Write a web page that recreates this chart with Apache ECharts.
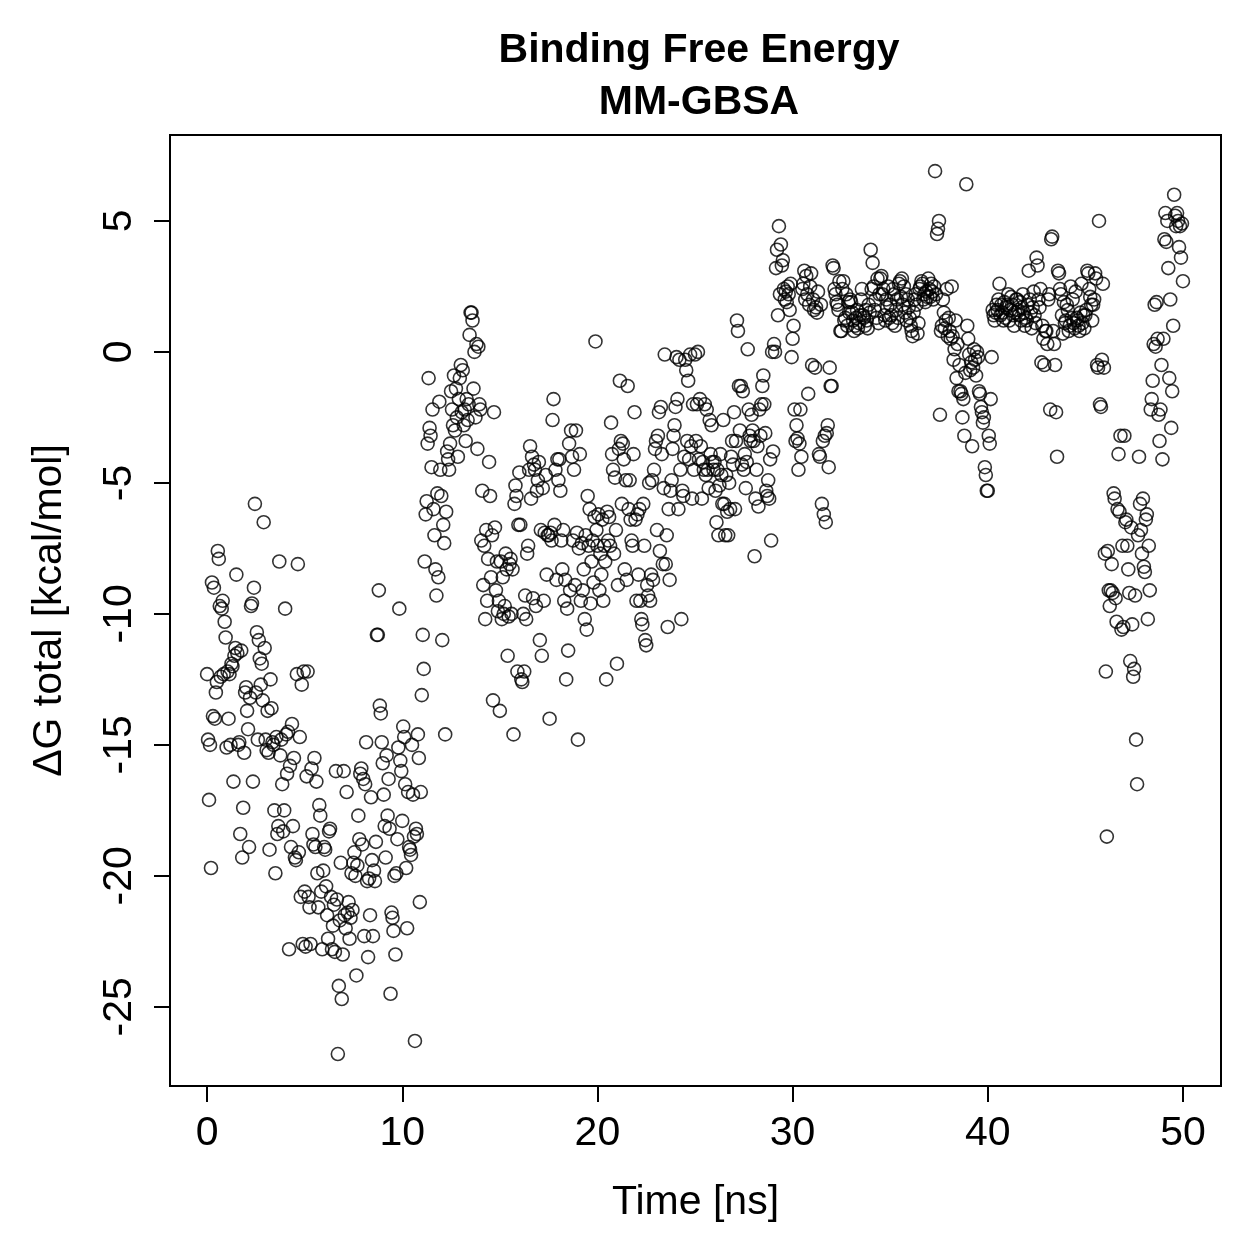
<!DOCTYPE html>
<html>
<head>
<meta charset="utf-8">
<title>Binding Free Energy MM-GBSA</title>
<script src="https://cdn.jsdelivr.net/npm/echarts@6/dist/echarts.min.js"></script>
<style>
  html, body { margin: 0; padding: 0; background: #fff; }
  #chart { width: 1259px; height: 1259px; }
</style>
</head>
<body>
<div id="chart"></div>
<script>
// frames are 0.05 ns apart, one array per 5 ns block (kcal/mol)
var timeStep = 0.05;
var blockLength = 5;

var dG_00_05 = [
  -12.3, -14.8, -17.1, -15.0, -19.7, -8.8, -13.9, -9.0, -14.0, -13.0,
  -12.6, -7.6, -7.9, -9.7, -12.4, -9.8, -9.5, -12.3, -10.3, -10.9,
  -15.1, -12.2, -14.0, -12.3, -15.0, -11.9, -12.0, -16.4, -11.6, -11.3,
  -8.5, -11.5, -15.0, -14.9, -18.4, -11.4, -19.3, -17.4, -15.3, -13.0,
  -12.8, -13.7, -14.4, -18.9, -13.2, -9.7, -9.6, -16.4, -9.0, -5.8,
  -13.0, -10.7, -14.8, -11.0, -11.7, -12.7, -11.9, -13.3, -6.5, -11.3,
  -14.8, -15.2, -13.7, -15.3, -19.0, -12.5, -13.6, -14.9, -15.0, -17.5,
  -19.9, -14.7, -18.4, -18.1, -8.0, -15.4, -14.8, -16.5, -18.3, -17.5,
  -9.8, -14.6, -16.1, -14.5, -22.8, -15.8, -18.9, -14.2, -18.1, -15.5,
  -19.3, -19.4, -12.3, -8.1, -19.1, -14.7, -20.8, -12.7, -22.6, -12.2
];
var dG_05_10 = [
  -20.6, -22.7, -16.2, -12.2, -20.8, -21.2, -22.6, -15.9, -18.4, -18.8,
  -15.5, -18.9, -16.4, -19.9, -21.2, -17.3, -17.7, -20.6, -22.8, -19.8,
  -18.9, -19.0, -20.4, -21.5, -22.4, -18.3, -18.2, -20.8, -22.8, -21.9,
  -21.1, -22.9, -16.0, -20.9, -26.8, -24.2, -21.7, -19.5, -24.7, -23.0,
  -16.0, -21.5, -22.0, -16.8, -21.4, -21.0, -22.4, -21.6, -19.9, -21.3,
  -19.5, -19.1, -20.0, -23.8, -19.6, -17.7, -18.6, -16.1, -15.9, -18.8,
  -16.3, -22.3, -16.5, -14.9, -20.2, -23.1, -20.1, -21.5, -17.0, -19.4,
  -22.3, -19.8, -20.2, -18.7, -10.8, -10.8, -9.1, -13.5, -13.8, -14.9,
  -15.7, -16.9, -18.1, -19.3, -15.4, -17.7, -16.3, -18.2, -24.5, -21.4,
  -21.6, -22.1, -20.0, -23.0, -19.9, -18.6, -15.1, -9.8, -15.6, -16.0
];
var dG_10_15 = [
  -17.9, -14.3, -14.7, -16.5, -19.7, -22.0, -16.8, -18.9, -19.0, -19.2,
  -15.0, -16.9, -18.5, -26.3, -18.2, -18.4, -14.6, -15.5, -21.0, -16.8,
  -13.1, -10.8, -12.1, -8.0, -6.2, -5.7, -3.5, -1.0, -2.9, -3.2,
  -4.4, -2.2, -6.0, -7.0, -8.3, -9.3, -5.4, -8.6, -1.9, -4.5,
  -5.5, -11.0, -6.6, -7.3, -14.6, -6.1, -3.8, -4.1, -4.5, -3.5,
  -1.5, -2.2, -2.8, -0.9, -3.0, -1.4, -2.5, -4.0, -1.8, -1.0,
  -0.5, -2.3, -0.7, -2.8, -2.2, -3.4, -1.8, -2.6, -2.0, 0.65,
  1.5, 1.5, 1.2, -1.4, 0.0, -2.5, 0.3, -3.7, 0.2, -2.0,
  -2.2, -7.2, -5.3, -8.9, -7.4, -10.2, -6.8, -9.5, -7.9, -4.2,
  -5.5, -8.6, -7.0, -13.3, -2.3, -6.7, -9.1, -8.0, -9.9, -9.5
];
var dG_15_20 = [
  -13.7, -8.0, -10.2, -8.6, -10.0, -9.7, -7.7, -8.3, -11.6, -10.1,
  -8.1, -7.9, -10.0, -8.3, -14.6, -5.8, -5.1, -5.5, -12.2, -6.6,
  -4.6, -6.6, -12.5, -12.6, -10.0, -12.2, -9.3, -10.2, -7.7, -7.4,
  -4.5, -3.6, -5.6, -4.0, -9.4, -4.3, -4.5, -9.7, -5.3, -4.9,
  -4.2, -11.0, -6.8, -11.6, -5.2, -9.5, -6.9, -4.7, -8.5, -7.0,
  -7.0, -14.0, -6.9, -7.2, -2.6, -1.8, -6.6, -4.5, -8.7, -4.1,
  -4.9, -4.1, -5.3, -7.2, -8.3, -6.8, -9.5, -8.7, -12.5, -9.8,
  -11.4, -3.5, -9.1, -3.0, -4.0, -7.2, -4.5, -8.9, -3.0, -6.9,
  -14.8, -7.5, -3.9, -9.5, -7.3, -9.1, -8.3, -10.2, -7.0, -10.6,
  -5.5, -7.4, -6.0, -9.6, -8.0, -7.2, -8.8, -6.3, 0.4, -6.8
];
var dG_20_25 = [
  -7.4, -6.2, -9.1, -7.7, -8.5, -6.4, -9.5, -7.4, -8.0, -12.5,
  -6.1, -7.2, -6.3, -7.4, -2.7, -3.9, -4.5, -7.7, -4.8, -6.8,
  -11.9, -8.9, -3.7, -1.1, -3.4, -5.8, -3.5, -4.1, -8.3, -4.9,
  -8.7, -1.3, -6.0, -4.9, -6.4, -7.2, -7.4, -3.9, -2.3, -6.4,
  -9.5, -6.2, -8.5, -6.0, -9.5, -10.2, -10.4, -5.8, -7.4, -11.0,
  -11.2, -8.9, -9.3, -5.0, -9.5, -8.5, -4.9, -8.7, -4.5, -3.7,
  -3.4, -6.8, -3.2, -2.3, -7.6, -2.1, -3.9, -8.1, -5.2, -0.1,
  -8.1, -7.0, -10.5, -6.0, -8.7, -5.3, -4.9, -3.7, -3.2, -2.8,
  -2.1, -0.2, -1.8, -6.0, -0.3, -4.5, -10.2, -5.3, -5.5, -4.0,
  -0.3, -0.7, -3.4, -1.1, -4.1, -0.1, -3.6, -5.6, -2.0, -4.5
];
var dG_25_30 = [
  -0.1, -3.4, -2.0, 0.0, -4.1, -1.8, -3.6, -5.6, -4.2, -4.5,
  -2.0, -4.7, -2.2, -4.5, -5.2, -2.6, -3.9, -2.8, -4.2, -4.5,
  -4.2, -5.3, -6.5, -4.5, -7.0, -5.1, -3.9, -4.7, -5.8, -2.6,
  -5.8, -7.0, -4.7, -6.1, -7.0, -5.0, -6.0, -4.0, -3.4, -4.3,
  -2.3, -6.0, -3.4, 1.2, 0.8, -1.3, -3.0, -1.3, -4.3, -1.5,
  -4.5, -3.9, -5.2, -4.2, 0.1, -2.2, -3.2, -3.4, -2.4, -3.0,
  -3.4, -7.8, -5.6, -4.5, -3.6, -5.9, -2.2, -3.2, -2.0, -1.3,
  -0.9, -2.0, -3.1, -5.3, -5.5, -4.9, -5.6, -4.1, -7.2, 0.0,
  -3.8, 0.3, 0.0, 3.2, 3.9, 1.4, 4.8, 2.2, 4.1, 3.3,
  3.5, 2.4, 2.0, 2.3, 1.9, 2.5, 2.2, 1.6, 2.6, -0.2
];
var dG_30_35 = [
  0.5, 1.0, -2.2, -3.4, -2.8, -3.3, -4.5, -3.5, -2.2, -4.0,
  2.4, 2.6, 3.1, 2.0, 2.9, 2.2, -1.6, 1.8, 2.5, 3.0,
  -0.5, 2.0, 1.6, -0.6, 1.7, 1.5, 2.3, -3.9, -4.0, 1.8,
  -5.8, -3.4, -6.2, -3.2, -6.5, -3.1, -2.8, -4.4, -0.6, -1.3,
  -1.3, 3.3, 3.2, 2.4, 2.2, 1.9, 1.8, 1.6, 2.7, 0.8,
  0.8, 2.4, 2.7, 1.2, 1.3, 2.2, 1.0, 1.9, 1.5, 2.0,
  1.9, 1.5, 1.2, 0.8, 1.0, 1.3, 1.6, 0.9, 1.1, 1.4,
  2.0, 2.4, 1.4, 1.3, 1.0, 1.6, 1.2, 0.9, 1.8, 1.5,
  3.9, 2.4, 3.4, 2.5, 1.6, 2.0, 1.3, 2.8, 1.1, 2.2,
  2.8, 2.9, 2.2, 2.4, 1.4, 1.2, 2.0, 1.7, 2.5, 1.3
];
var dG_35_40 = [
  1.8, 1.4, 1.1, 2.4, 2.2, 1.0, 1.6, 2.0, 1.3, 2.6,
  2.7, 2.1, 2.8, 1.8, 2.5, 1.5, 2.2, 1.2, 2.0, 1.7,
  1.3, 1.0, 0.8, 0.6, 1.5, 2.0, 2.2, 1.8, 0.7, 1.1,
  2.4, 2.5, 2.7, 2.6, 2.0, 2.2, 1.9, 2.3, 2.1, 2.8,
  2.4, 2.1, 2.6, 2.3, 2.0, 2.5, 6.9, 2.2, 4.5, 4.7,
  5.0, -2.4, 0.8, 1.0, 2.0, 1.5, 0.9, 1.2, 2.4, 0.6,
  1.3, 0.8, 0.5, 2.5, 0.6, -0.3, 0.1, 1.2, -1.0, 0.3,
  -1.5, -0.5, -1.5, -1.6, -2.5, -1.8, -3.2, -0.8, 6.4, 1.0,
  0.5, -0.1, -0.7, -0.4, -3.6, -0.6, 0.1, -0.3, -0.9, 0.0,
  -0.2, -1.5, -1.6, -2.1, -2.3, -2.7, -2.5, -4.4, -4.7, -5.3
];
var dG_40_45 = [
  -5.3, -3.2, -3.5, -1.8, -0.2, 1.6, 1.4, 1.2, 1.5, 1.8,
  1.6, 2.0, 2.6, 1.4, 1.8, 1.5, 1.2, 1.9, 1.3, 1.7,
  1.8, 2.2, 1.2, 1.6, 2.1, 1.8, 1.4, 1.0, 1.5, 2.0,
  2.0, 1.6, 1.4, 1.9, 1.2, 1.7, 2.2, 1.5, 1.0, 1.3,
  1.2, 1.8, 3.1, 2.0, 1.5, 0.9, 1.7, 2.3, 1.4, 1.1,
  3.6, 3.3, 2.0, 1.7, 2.4, -0.4, 1.0, 0.5, -0.5, 0.8,
  0.8, 0.3, 2.0, 2.2, -2.2, 4.3, 4.4, 0.8, 0.3, -0.5,
  -2.3, -4.0, 3.1, 3.0, 2.4, 2.2, 1.4, 0.7, 1.9, 1.1,
  1.2, 1.8, 1.6, 0.8, 1.0, 2.5, 1.3, 2.0, 1.1, 0.9,
  2.3, 1.3, 1.2, 1.0, 0.8, 1.5, 2.6, 1.1, 1.4, 0.9
];
var dG_45_50 = [
  1.4, 1.6, 3.1, 3.0, 2.4, 2.1, 1.8, 1.2, 1.8, 2.0,
  3.0, 2.8, -0.5, -0.6, 5.0, -2.0, -2.1, -0.3, 2.6, -0.6,
  -7.7, -12.2, -18.5, -7.6, -9.1, -9.7, -9.1, -8.1, -9.2, -5.4,
  -5.6, -9.4, -10.3, -6.0, -3.9, -6.1, -3.2, -10.6, -7.4, -10.5,
  -3.2, -6.5, -6.4, -7.4, -8.3, -9.2, -11.8, -6.7, -10.4, -12.4,
  -12.1, -9.3, -14.8, -16.5, -7.0, -4.0, -5.8, -6.8, -7.7, -5.6,
  -8.2, -8.4, -6.4, -6.2, -10.2, -7.4, -9.1, -2.2, -1.8, -1.1,
  0.3, 1.8, 0.2, 1.9, 0.5, -2.4, -3.4, -2.2, -0.5, -4.1,
  0.5, 4.3, 5.3, 4.2, 5.0, 3.2, -1.0, 2.0, -2.9, -1.5,
  1.0, 6.0, 5.2, 4.8, 5.3, 5.0, 4.0, 4.8, 3.6, 4.9, 2.7
];

var blocks = [dG_00_05, dG_05_10, dG_10_15, dG_15_20, dG_20_25,
              dG_25_30, dG_30_35, dG_35_40, dG_40_45, dG_45_50];

var xTicks = [0, 10, 20, 30, 40, 50];
var yTicks = [-25, -20, -15, -10, -5, 0, 5];

var points = [];
for (var b = 0; b < blocks.length; b++) {
    for (var i = 0; i < blocks[b].length; i++) {
        var t = Math.round((b * blockLength + i * timeStep) * 100) / 100;
        points.push([t, blocks[b][i]]);
    }
}

var font = '"Liberation Sans", Arial, Helvetica, sans-serif';

var myChart = echarts.init(document.getElementById('chart'), null, { renderer: 'canvas' });

var option = {
    backgroundColor: '#fff',
    animation: false,
    title: {
        text: 'Binding Free Energy\nMM-GBSA',
        left: 694,
        top: 20,
        textAlign: 'center',
        textStyle: {
            fontFamily: font,
            fontSize: 41,
            fontWeight: 'bold',
            color: '#000',
            lineHeight: 52
        }
    },
    grid: {
        left: 170,
        right: 38,
        top: 135,
        bottom: 173,
        show: true,
        borderColor: '#000',
        borderWidth: 2,
        backgroundColor: 'transparent'
    },
    xAxis: {
        type: 'value',
        min: -1.9,
        max: 51.95,
        name: 'Time [ns]',
        nameLocation: 'middle',
        nameGap: 96,
        nameTextStyle: { fontFamily: font, fontSize: 41, color: '#000' },
        axisLine: { show: false, onZero: false },
        splitLine: { show: false },
        axisTick: {
            show: true,
            length: 16,
            customValues: xTicks,
            lineStyle: { color: '#000', width: 2 }
        },
        axisLabel: {
            customValues: xTicks,
            margin: 27,
            fontFamily: font,
            fontSize: 41,
            color: '#000'
        }
    },
    yAxis: {
        type: 'value',
        min: -28.02,
        max: 8.28,
        name: 'ΔG total [kcal/mol]',
        nameLocation: 'middle',
        nameGap: 100,
        nameTextStyle: { fontFamily: font, fontSize: 41, color: '#000' },
        axisLine: { show: false, onZero: false },
        splitLine: { show: false },
        axisTick: {
            show: true,
            length: 16,
            customValues: yTicks,
            lineStyle: { color: '#000', width: 2 }
        },
        axisLabel: {
            customValues: yTicks,
            rotate: 90,
            margin: 30,
            fontFamily: font,
            fontSize: 41,
            color: '#000'
        }
    },
    series: [{
        type: 'scatter',
        data: points,
        symbol: 'circle',
        symbolSize: 13,
        itemStyle: {
            color: 'transparent',
            borderColor: '#000',
            borderWidth: 1.6
        },
        emphasis: { disabled: true }
    }]
};

myChart.setOption(option);
</script>
</body>
</html>
